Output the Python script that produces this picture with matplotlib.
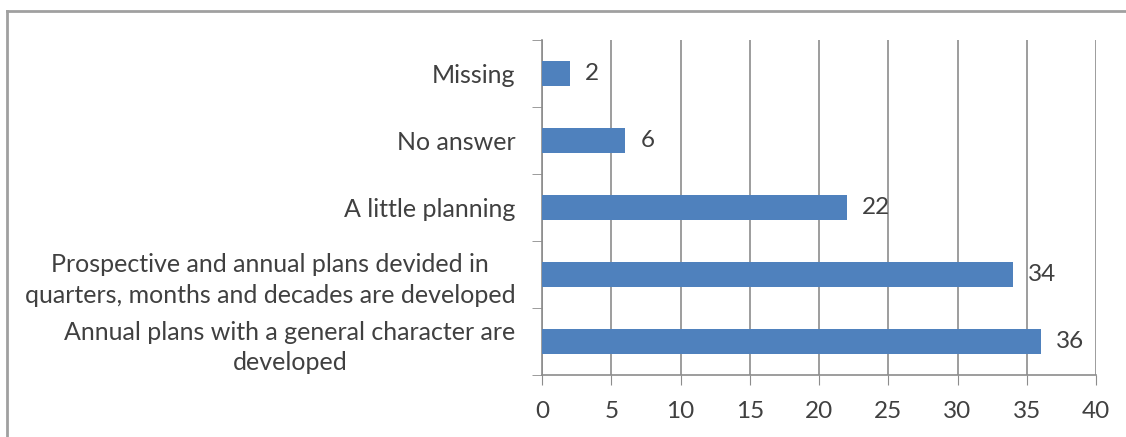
import matplotlib.pyplot as plt
import numpy as np
from matplotlib.lines import Line2D

# survey answers, bottom to top
answers = ["Annual plans with a general character are\ndeveloped",
           "Prospective and annual plans devided in\nquarters, months and decades are developed",
           "A little planning",
           "No answer",
           "Missing"]
counts = [36, 34, 22, 6, 2]
xticks = [0, 5, 10, 15, 20, 25, 30, 35, 40]

plt.rcParams['font.family'] = ['Lato', 'DejaVu Sans']

txt = '#404040'
grid = '#8c8c8c'
fs = 17.5

fig = plt.figure(figsize=(11.26, 4.37), dpi=100)
ax = fig.add_axes([542/1126, 62/437, 554/1126, 335/437])

pos = np.arange(len(answers))
ax.barh(pos, counts, height=0.38, color='#4f81bd', zorder=3)

for p, c in zip(pos, counts):
    ax.text(c + 1.1, p, str(c), va='center', ha='left', fontsize=fs, color=txt)

ax.set_xlim(0, 40)
ax.set_ylim(-0.5, len(answers) - 0.5)
ax.set_xticks(xticks)
ax.set_xticklabels([str(v) for v in xticks], fontsize=fs, color=txt)
ax.set_yticks(pos)
ax.set_yticklabels(answers, fontsize=18, color=txt, multialignment='center',
                   linespacing=1.4)
ax.set_yticks(np.arange(-0.5, len(answers), 1), minor=True)

ax.tick_params(axis='y', which='major', length=0, pad=19)
ax.tick_params(axis='y', which='minor', length=7, color=grid, direction='out')
ax.tick_params(axis='x', length=7, color=grid, pad=12)

ax.xaxis.grid(True, color=grid, linewidth=1.2, zorder=0)
for s in ['top', 'right']:
    ax.spines[s].set_visible(False)
for s in ['left', 'bottom']:
    ax.spines[s].set_color(grid)
    ax.spines[s].set_linewidth(1.2)

# chart frame (left and top edges)
fig.add_artist(Line2D([7/1126, 7/1126], [0, 1 - 11/437], color='#a0a0a0',
                      linewidth=2, transform=fig.transFigure))
fig.add_artist(Line2D([7/1126, 1], [1 - 11/437, 1 - 11/437], color='#a0a0a0',
                      linewidth=2, transform=fig.transFigure))

fig.savefig('out.png', dpi=100)
